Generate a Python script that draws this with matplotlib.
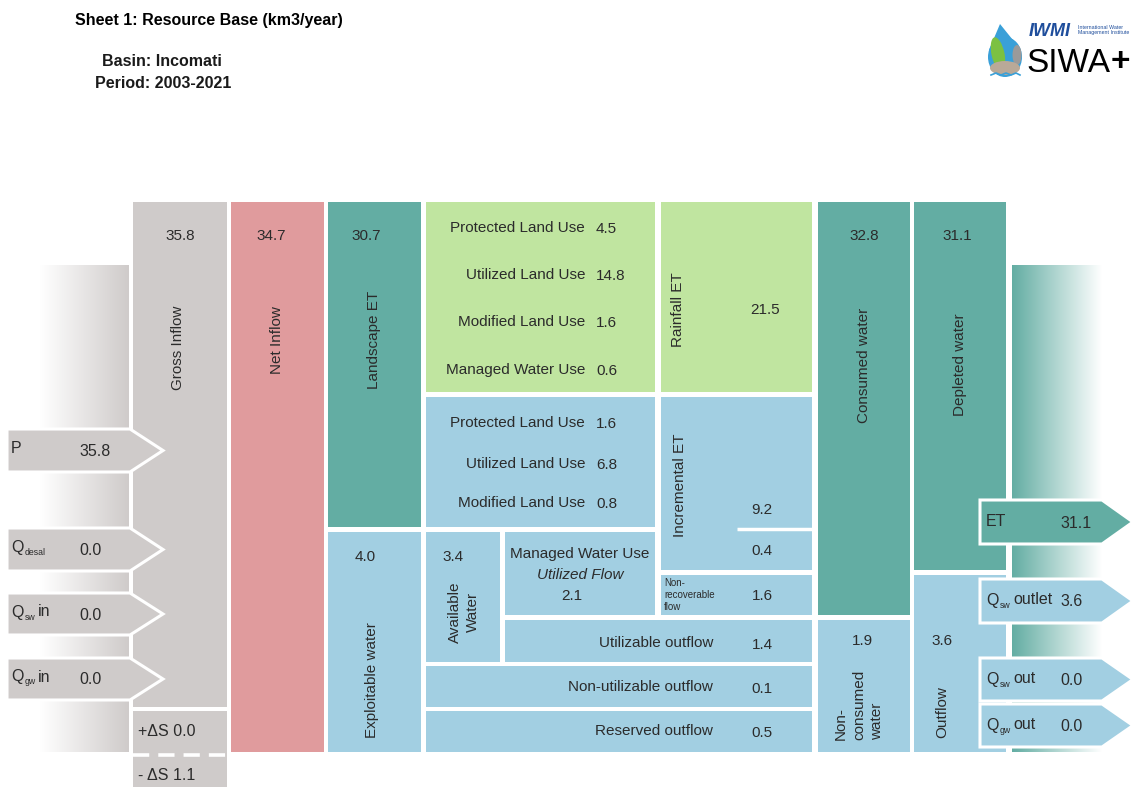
import matplotlib
matplotlib.use('Agg')
import matplotlib.pyplot as plt
from matplotlib.patches import Rectangle, Polygon, Ellipse
import numpy as np

plt.rcParams['font.family'] = ['Liberation Sans', 'DejaVu Sans']

# ---------------- data ----------------
title = 'Sheet 1: Resource Base (km3/year)'
basin = 'Incomati'
period = '2003-2021'

inflow_names = ['P', 'Q', 'Q', 'Q']
inflow_subs = ['', 'desal', 'sw', 'gw']
inflow_suffix = ['', '', 'in', 'in']
inflow_values = [35.8, 0.0, 0.0, 0.0]
storage_change = [0.0, 1.1]          # +dS, -dS

gross_inflow = 35.8
net_inflow = 34.7
landscape_et = 30.7
exploitable_water = 4.0
available_water = 3.4

rainfall_et_labels = ['Protected Land Use', 'Utilized Land Use',
                      'Modified Land Use', 'Managed Water Use']
rainfall_et_values = [4.5, 14.8, 1.6, 0.6]
rainfall_et_total = 21.5

incremental_et_labels = ['Protected Land Use', 'Utilized Land Use',
                         'Modified Land Use']
incremental_et_values = [1.6, 6.8, 0.8]
incremental_et_total = 9.2
incremental_et_managed = 0.4

utilized_flow = 2.1
non_recoverable_flow = 1.6
outflow_labels = ['Utilizable outflow', 'Non-utilizable outflow', 'Reserved outflow']
outflow_values = [1.4, 0.1, 0.5]

consumed_water = 32.8
non_consumed_water = 1.9
depleted_water = 31.1
outflow_total = 3.6

out_names = ['ET', 'Q', 'Q', 'Q']
out_subs = ['', 'sw', 'sw', 'gw']
out_suffix = ['', 'outlet', 'out', 'out']
out_values = [31.1, 3.6, 0.0, 0.0]

# ---------------- style ----------------
GREY = '#cfcbca'
PINK = '#e09b9d'
TEAL = '#63ada3'
GREEN = '#c0e5a0'
BLUE = '#a2cfe2'
TXT = '#2b2b2b'
FS = 11

fig = plt.figure(figsize=(11.44, 7.87), dpi=100)
ax = fig.add_axes([0, 0, 1, 1])


def box(x0, y0, x1, y1, color):
    ax.add_patch(Rectangle((x0, y0), x1 - x0, y1 - y0, fc=color, ec='none', zorder=2))


def txt(x, y, s, ha='center', va='center', fs=FS, rot=0, **kw):
    ax.text(x, y, s, ha=ha, va=va, fontsize=fs, rotation=rot, color=TXT, zorder=6, **kw)


def gradient(x0, x1, y0, y1, c_left, c_right):
    t = np.linspace(0, 1, 256)[None, :, None]
    cl = np.array(matplotlib.colors.to_rgb(c_left))[None, None, :]
    cr = np.array(matplotlib.colors.to_rgb(c_right))[None, None, :]
    img = cl * (1 - t) + cr * t
    img = np.repeat(img, 2, axis=0)
    ax.imshow(img, extent=(x0, x1, y1, y0), aspect='auto', zorder=1, interpolation='bilinear')


def arrow(x0, xb, xt, y0, y1, color):
    ym = (y0 + y1) / 2
    ax.add_patch(Polygon([(x0, y0), (xb, y0), (xt, ym), (xb, y1), (x0, y1)],
                         closed=True, fc=color, ec='white', lw=2.2, joinstyle='miter', zorder=4))


# background gradients
gradient(40, 129, 265, 752, 'white', GREY)
gradient(1012, 1102, 265, 752, TEAL, 'white')

# ---- columns ----
box(133, 202, 227, 707, GREY)           # gross inflow
box(133, 711, 227, 752, GREY)           # +dS
box(133, 752, 227, 787, GREY)           # -dS
ax.plot([133, 227], [755, 755], color='white', lw=2.6, dashes=(4.5, 2.5), zorder=3,
        solid_capstyle='butt', dash_capstyle='butt')
box(231, 202, 324, 752, PINK)           # net inflow
box(328, 202, 421, 527, TEAL)           # landscape ET
box(328, 532, 421, 752, BLUE)           # exploitable water
box(426, 202, 655, 392, GREEN)          # rainfall ET by land use
box(661, 202, 812, 392, GREEN)          # rainfall ET total
box(426, 397, 655, 527, BLUE)           # incremental ET by land use
box(661, 397, 812, 570, BLUE)           # incremental ET total
ax.plot([737, 812], [529, 529], color='white', lw=2.5, zorder=3, solid_capstyle='butt')
box(661, 575, 812, 615, BLUE)           # non-recoverable flow
box(426, 532, 500, 662, BLUE)           # available water
box(505, 532, 655, 615, BLUE)           # utilized flow
box(505, 620, 812, 662, BLUE)           # utilizable outflow
box(426, 666, 812, 707, BLUE)           # non-utilizable outflow
box(426, 711, 812, 752, BLUE)           # reserved outflow
box(818, 202, 910, 615, TEAL)           # consumed water
box(818, 620, 910, 752, BLUE)           # non-consumed water
box(914, 202, 1006, 570, TEAL)          # depleted water
box(914, 575, 1006, 752, BLUE)          # outflow

# ---- inflow arrows ----
in_rows = [(429, 472), (528, 571), (593, 635), (658, 700)]
for (y0, y1), nm, sb, sf, v in zip(in_rows, inflow_names, inflow_subs, inflow_suffix, inflow_values):
    arrow(7, 130, 163, y0, y1, GREY)
    ym = (y0 + y1) / 2
    txt(11, ym - 2, nm, ha='left', fs=11.5)
    if sb:
        txt(25, ym + 3, sb, ha='left', fs=6.3)
    if sf:
        txt(38, ym - 2, sf, ha='left', fs=11.5)
    txt(79, ym + 1, f'{v:.1f}', ha='left', fs=11.5)

txt(138, 732, f'+\u0394S {storage_change[0]:.1f}', ha='left', fs=11.5)
txt(138, 776, f'- \u0394S {storage_change[1]:.1f}', ha='left', fs=11.5)

# ---- outflow arrows ----
out_rows = [(500, 544), (579, 623), (658, 701), (704, 747)]
out_colors = [TEAL, BLUE, BLUE, BLUE]
for (y0, y1), nm, sb, sf, v, c in zip(out_rows, out_names, out_subs, out_suffix, out_values, out_colors):
    arrow(980, 1102, 1133, y0, y1, c)
    ym = (y0 + y1) / 2
    txt(986, ym, nm, ha='left', fs=11.5)
    if sb:
        txt(1000, ym + 5, sb, ha='left', fs=6.3)
    if sf:
        txt(1013, ym - 1, sf, ha='left', fs=11.5)
    txt(1060, ym + 1, f'{v:.1f}', ha='left', fs=11.5)

# ---- column labels / values ----
txt(180, 236, f'{gross_inflow:.1f}')
txt(178, 348, 'Gross Inflow', rot=90)
txt(271, 236, f'{net_inflow:.1f}')
txt(277, 340, 'Net Inflow', rot=90)
txt(366, 236, f'{landscape_et:.1f}')
txt(374, 340, 'Landscape ET', rot=90)
txt(365, 557, f'{exploitable_water:.1f}')
txt(372, 680, 'Exploitable water', rot=90)
txt(453, 557, f'{available_water:.1f}')
txt(464, 612, 'Available\nWater', rot=90, linespacing=1.35)

ys_green = [228, 275, 322, 370]
for y, lab, v in zip(ys_green, rainfall_et_labels, rainfall_et_values):
    txt(585, y, lab, ha='right')
    txt(596, y + 1, f'{v:.1f}', ha='left')
txt(678, 310, 'Rainfall ET', rot=90)
txt(765, 310, f'{rainfall_et_total:.1f}')

ys_blue = [423, 464, 503]
for y, lab, v in zip(ys_blue, incremental_et_labels, incremental_et_values):
    txt(585, y, lab, ha='right')
    txt(596, y + 1, f'{v:.1f}', ha='left')
txt(680, 485, 'Incremental ET', rot=90)
txt(762, 510, f'{incremental_et_total:.1f}')
txt(762, 551, f'{incremental_et_managed:.1f}')

txt(580, 554, 'Managed Water Use')
txt(580, 575, 'Utilized Flow', style='italic')
txt(572, 596, f'{utilized_flow:.1f}')

txt(664, 595, 'Non-\nrecoverable\nflow', ha='left', fs=7, linespacing=1.3)
txt(762, 596, f'{non_recoverable_flow:.1f}')

ys_out = [643, 687, 731]
for y, lab, v in zip(ys_out, outflow_labels, outflow_values):
    txt(713, y, lab, ha='right')
    txt(762, y + 2, f'{v:.1f}')

txt(864, 236, f'{consumed_water:.1f}')
txt(864, 365, 'Consumed water', rot=90)
txt(957, 236, f'{depleted_water:.1f}')
txt(960, 365, 'Depleted water', rot=90)
txt(862, 641, f'{non_consumed_water:.1f}')
txt(859, 705, 'Non-\nconsumed\nwater', rot=90, linespacing=1.35, multialignment='left')
txt(942, 641, f'{outflow_total:.1f}')
txt(942, 712, 'Outflow', rot=90)

# ---- titles ----
ax.text(75, 20, title, ha='left', va='center', fontsize=11.5, fontweight='bold', color='black')
ax.text(162, 61, f'Basin: {basin}', ha='center', va='center', fontsize=11.5,
        fontweight='bold', color='#1a1a1a')
ax.text(163, 84, f'Period: {period}', ha='center', va='center', fontsize=11.5,
        fontweight='bold', color='#1a1a1a')

# ---- logo ----
ax.add_patch(Ellipse((1005, 57), 34, 40, fc='#3aa0d8', ec='none', zorder=3))
ax.add_patch(Polygon([(989, 50), (1000, 24), (1021, 50)], fc='#3aa0d8', ec='none', zorder=3))
ax.add_patch(Ellipse((998, 54), 13, 34, fc='#7cc142', ec='none', zorder=4, angle=-12))
ax.add_patch(Ellipse((1017, 55), 9, 20, fc='#9a9a9a', ec='none', zorder=4))
ax.add_patch(Ellipse((1005, 68), 30, 14, fc='#b9a998', ec='none', zorder=5))
ax.plot([991, 996, 1001, 1006, 1011, 1016, 1020], [75, 73, 75, 73, 75, 73, 75],
        color='#3aa0d8', lw=1.2, zorder=6)
ax.text(1029, 32, 'IWMI', ha='left', va='center', fontsize=13, fontweight='bold',
        style='italic', color='#1f4e9c', zorder=6)
ax.text(1078, 30, 'International Water\nManagement Institute', ha='left', va='center',
        fontsize=3.8, color='#1f4e9c', linespacing=1.0, zorder=6)
ax.text(1026, 63, 'SIWA', ha='left', va='center', fontsize=24, color='black', zorder=6)
ax.text(1111, 63, '+', ha='left', va='center', fontsize=24, fontweight='bold', color='black', zorder=6)

ax.set_xlim(0, 1144)
ax.set_ylim(787, 0)
ax.axis('off')
fig.savefig('out.png', dpi=100, facecolor='white')
